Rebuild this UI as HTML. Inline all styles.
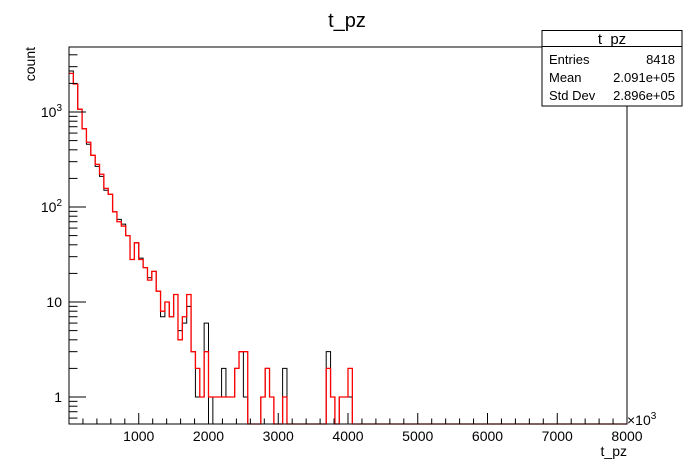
<!DOCTYPE html>
<html><head><meta charset="utf-8"><style>
body{margin:0;background:#fff}
svg{display:block;font-family:"Liberation Sans",Arial,sans-serif}
</style></head><body>
<svg width="696" height="472" viewBox="0 0 696 472">
<rect width="696" height="472" fill="#fff"/>
<text x="347" y="27" font-size="20" text-anchor="middle">t_pz</text>
<g id="plot"></g>
<rect x="69" y="47" width="558" height="377" fill="none" stroke="#000" stroke-width="1"/>
<g id="axes"></g>
<text x="627" y="456" font-size="14" text-anchor="end">t_pz</text>
<text x="627" y="425" font-size="14">×10<tspan dy="-6" font-size="10">3</tspan></text>
<text transform="translate(35,47) rotate(-90)" font-size="14" text-anchor="end">count</text>
<g>
<rect x="542" y="30.5" width="140" height="75.5" fill="#fff" stroke="#000"/>
<line x1="542" y1="46.5" x2="682" y2="46.5" stroke="#000"/>
<text x="612" y="44" font-size="15" text-anchor="middle">t_pz</text>
<text x="549" y="64" font-size="13">Entries</text>
<text x="675" y="64" font-size="13" text-anchor="end">8418</text>
<text x="549" y="82" font-size="13">Mean</text>
<text x="675" y="82" font-size="13" text-anchor="end">2.091e+05</text>
<text x="549" y="100" font-size="13">Std Dev</text>
<text x="675" y="100" font-size="13" text-anchor="end">2.896e+05</text>
</g>
</svg>
<script>
const xMin = 0, xMax = 8000, nBins = 128;
const blackCounts = [2700,1970,1070,667,457,350,268,210,150,136,89,74,66,50,28,42,29,23,18,21,13,7,10,7,12,5,6,9,3,1,1,6,0,1,1,2,1,1,2,3,1,0,0,0,1,2,1,0,0,2,0,0,0,0,0,0,0,0,0,3,1,0,1,1,1];
const redCounts = [2550,1970,1070,667,480,350,281,221,157,136,89,70,63,50,28,42,28,23,17,21,13,8,10,7,12,4,7,12,3,2,1,3,1,1,1,1,1,1,2,3,3,0,0,0,1,2,1,0,0,1,0,0,0,0,0,0,0,0,0,2,1,0,1,1,2];
const xTicks = [1000,2000,3000,4000,5000,6000,7000,8000];
const xTickLabels = ["1000","2000","3000","4000","5000","6000","7000","8000"];
const yTicks = [1,10,100,1000];
const yTickLabels = ["1","10","10^2","10^3"];

const L=69,R=627,T=47,B=424;
const xs = v => L + (v - xMin) / (xMax - xMin) * (R - L);
const ys = v => 397 - 95 * Math.log10(v);
const NS="http://www.w3.org/2000/svg";
const plot=document.getElementById('plot'), axes=document.getElementById('axes');
function mk(tag, attrs, parent){const e=document.createElementNS(NS,tag);for(const k in attrs)e.setAttribute(k,attrs[k]);parent.appendChild(e);return e;}

function histPath(arr){
  const w=(xMax-xMin)/nBins; let d='';
  for(let i=0;i<nBins;i++){
    const v=arr[i]||0; const y=v>0?Math.max(T,ys(v)):B;
    const x0=xs(xMin+i*w), x1=xs(xMin+(i+1)*w);
    if(i===0) d+='M'+x0+','+y; else d+='L'+x0+','+y;
    d+='L'+x1+','+y;
  }
  return d;
}
const pb=mk('path',{d:histPath(blackCounts),fill:'none',stroke:'#000','stroke-width':1},plot);


const pr=mk('path',{d:histPath(redCounts),fill:'none',stroke:'#f00','stroke-width':1.3},plot);



for(let v=200; v<xMax; v+=200){
  const major=v%1000===0; const x=xs(v);
  const t=mk('line',{x1:x,x2:x,y1:B,y2:B-(major?11:5.5),stroke:'#000'},axes);
  
  
}
xTicks.forEach((v,i)=>{
  const t=mk('text',{x:xs(v),y:441,'font-size':14,'text-anchor':'middle'},axes);
  t.textContent=xTickLabels[i];
  
  
});
for(let e=-1;e<=3;e++){
  for(let m=1;m<=9;m++){
    const v=m*Math.pow(10,e); const y=ys(v);
    if(y<T||y>B) continue;
    const t=mk('line',{x1:L,x2:L+(m===1?17:8.5),y1:y,y2:y,stroke:'#000'},axes);
    
    
  }
}
yTicks.forEach((v,i)=>{
  const y=ys(v)+5; const lab=yTickLabels[i];
  const t=mk('text',{x:62,y:y,'font-size':14,'text-anchor':'end'},axes);
  if(lab.indexOf('^')>=0){const p=lab.split('^');t.textContent=p[0];const s=mk('tspan',{dy:-6,'font-size':10},t);s.textContent=p[1];}
  else t.textContent=lab;
  
  
});
</script>
</body></html>
